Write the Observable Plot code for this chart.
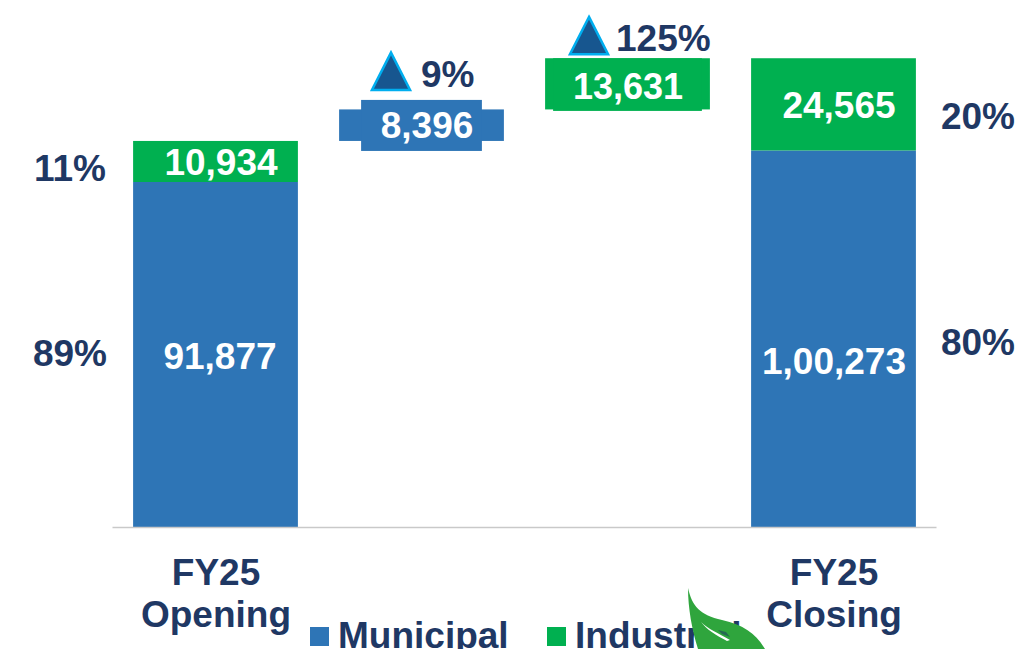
<!DOCTYPE html>
<html>
<head>
<meta charset="utf-8">
<script src="https://cdn.jsdelivr.net/npm/d3@7"></script>
<script src="https://cdn.jsdelivr.net/npm/@observablehq/plot@0.6"></script>
<style>
html,body{margin:0;padding:0;background:#fff;width:1022px;height:649px;overflow:hidden}
#wrap{position:relative;width:1022px;height:649px;overflow:hidden}
#wrap svg{display:block}
.lg{position:absolute;top:615px;font:bold 37px "Liberation Sans",Arial,sans-serif;color:#1f3864;line-height:42px;white-space:nowrap}
.sw{position:absolute;top:627px;width:19px;height:19px}
#leaf{position:absolute;left:680px;top:580px}
</style>
</head>
<body>
<div id="wrap"></div>
<script>
const categories = ["Opening", "Municipal add", "Industrial add", "Closing"];
const categoryLabels = {Opening: "FY25\nOpening", Closing: "FY25\nClosing"};
const municipalValues = [91877, 8396, 100273];
const industrialValues = [10934, 13631, 24565];
const municipalLabels = ["91,877", "8,396", "1,00,273"];
const industrialLabels = ["10,934", "13,631", "24,565"];
const shareLabels = [
  {cat: "Opening", value: 95500, text: "11%", side: "left"},
  {cat: "Opening", value: 46200, text: "89%", side: "left"},
  {cat: "Closing", value: 109200, text: "20%", side: "right"},
  {cat: "Closing", value: 49000, text: "80%", side: "right"}
];
const growth = [
  {cat: "Municipal add", value: 121500, text: "9%"},
  {cat: "Industrial add", value: 131000, text: "125%"}
];
const BLUE = "#2e75b6", GREEN = "#00b050", NAVY = "#1f3864";
const F = {fontFamily: "'Liberation Sans', Arial, sans-serif", fontWeight: "bold", fontSize: 37};

const bars = [
  {cat: "Opening", y1: 0, y2: municipalValues[0], color: BLUE},
  {cat: "Opening", y1: municipalValues[0], y2: municipalValues[0] + industrialValues[0], color: GREEN},
  {cat: "Closing", y1: 0, y2: municipalValues[2], color: BLUE},
  {cat: "Closing", y1: municipalValues[2], y2: municipalValues[2] + industrialValues[2], color: GREEN}
];
const openingTotal = municipalValues[0] + industrialValues[0];
const bridgeBlue = [{cat: categories[1], y1: openingTotal, y2: openingTotal + municipalValues[1], label: municipalLabels[1]}];
const bridgeGreen = [{cat: categories[2], y1: openingTotal + municipalValues[1], y2: openingTotal + municipalValues[1] + industrialValues[1], label: industrialLabels[1]}];
const mid = d => (d.y1 + d.y2) / 2;

const triangle = {draw(c, size) {
  const s = Math.sqrt(size);
  c.moveTo(0, -s * 0.53);
  c.lineTo(s * 0.5, s * 0.45);
  c.lineTo(-s * 0.5, s * 0.45);
  c.closePath();
}};

const chart = Plot.plot({
  width: 1022,
  height: 649,
  marginTop: 0,
  marginLeft: 112.5,
  marginRight: 85.5,
  marginBottom: 122,
  style: {background: "#fff", overflow: "hidden"},
  x: {domain: categories, paddingInner: 0.2, paddingOuter: 0.1, align: 0.5, round: false, label: null},
  y: {domain: [0, 140346], label: null, axis: null},
  marks: [
    Plot.barY(bars, {x: "cat", y1: "y1", y2: "y2", fill: "color"}),
    // bridge bars with their wider / narrower label plates
    Plot.barY(bridgeBlue, {x: "cat", y1: "y1", y2: "y2", fill: BLUE}),
    Plot.barY(bridgeBlue, {x: "cat", y1: "y1", y2: "y2", fill: BLUE, insetLeft: 22, insetRight: 22, insetTop: -9.5, insetBottom: -10}),
    Plot.barY(bridgeGreen, {x: "cat", y1: "y1", y2: "y2", fill: GREEN}),
    Plot.barY(bridgeGreen, {x: "cat", y1: "y1", y2: "y2", fill: GREEN, insetLeft: 8, insetRight: 8, insetBottom: -1.5}),
    Plot.ruleY([0], {stroke: "#c9c9c9", strokeWidth: 1.5}),
    Plot.axisX({ticks: ["Opening", "Closing"], tickSize: 0, tickPadding: 28, tickFormat: d => categoryLabels[d], label: null,
      ...F, fill: NAVY, lineHeight: 1.135}),
    // segment value labels
    Plot.text([{cat: "Opening", v: municipalValues[0] / 2, t: municipalLabels[0]}], {x: "cat", y: "v", text: "t", fill: "#fff", dx: 4, dy: 2, ...F}),
    Plot.text([{cat: "Opening", v: municipalValues[0] + industrialValues[0] / 2, t: industrialLabels[0]}], {x: "cat", y: "v", text: "t", fill: "#fff", dx: 5, dy: 1, ...F}),
    Plot.text([{cat: "Closing", v: municipalValues[2] / 2, t: municipalLabels[2]}], {x: "cat", y: "v", text: "t", fill: "#fff", dy: 23, ...F}),
    Plot.text([{cat: "Closing", v: municipalValues[2] + industrialValues[2] / 2, t: industrialLabels[2]}], {x: "cat", y: "v", text: "t", fill: "#fff", dx: 5, dy: 1, ...F}),
    Plot.text(bridgeBlue, {x: "cat", y: mid, text: "label", fill: "#fff", dx: 5, ...F}),
    Plot.text(bridgeGreen, {x: "cat", y: mid, text: "label", fill: "#fff", dx: 0, dy: 3, ...F, fontSize: 36}),
    // share labels beside the bars
    Plot.text(shareLabels.filter(d => d.side === "left"), {x: "cat", y: "value", text: "text", fill: NAVY, dx: -146, ...F}),
    Plot.text(shareLabels.filter(d => d.side === "right"), {x: "cat", y: "value", text: "text", fill: NAVY, dx: 144, ...F}),
    // growth indicators
    Plot.dot(growth.filter(d => d.text === "9%"), {x: "cat", y: "value", symbol: triangle, r: 21.5, fill: "#17568f", stroke: "#00aeef", strokeWidth: 2.5, dx: -31, dy: 1.5}),
    Plot.dot(growth.filter(d => d.text === "125%"), {x: "cat", y: "value", symbol: triangle, r: 21.5, fill: "#17568f", stroke: "#00aeef", strokeWidth: 2.5, dx: -39, dy: 1.5}),
    Plot.text(growth.filter(d => d.text === "9%"), {x: "cat", y: "value", text: "text", fill: NAVY, textAnchor: "start", dx: -1, dy: 4, ...F}),
    Plot.text(growth.filter(d => d.text === "125%"), {x: "cat", y: "value", text: "text", fill: NAVY, textAnchor: "start", dx: -12, dy: 4, ...F})
  ]
});
const wrap = document.getElementById("wrap");
wrap.appendChild(chart);

// legend, added as ordinary HTML over the foot of the chart
[["Municipal", BLUE, 310, 338], ["Industrial", GREEN, 547, 575]].forEach(([name, color, sx, tx]) => {
  const sw = document.createElement("div");
  sw.className = "sw"; sw.style.left = sx + "px"; sw.style.background = color;
  const t = document.createElement("div");
  t.className = "lg"; t.style.left = tx + "px"; t.textContent = name;
  wrap.append(sw, t);
});

// decorative leaf overlapping the legend
const leaf = document.createElementNS("http://www.w3.org/2000/svg", "svg");
leaf.setAttribute("id", "leaf");
leaf.setAttribute("width", 100);
leaf.setAttribute("height", 69);
leaf.innerHTML = '<path d="M8 8C12 26 20 35 42 40C64 45 76 54 85 69L18 69C12 50 8 28 8 8Z" fill="#2fa53d"/>' +
  '<path d="M21 42C28 49 38 53 50 60L47 61C36 55 27 50 21 42Z" fill="#fff"/>' +
  '<path d="M38 50L46 52L50 57L42 54Z" fill="#1f3864" opacity="0.55"/>';
wrap.appendChild(leaf);
</script>
</body>
</html>
